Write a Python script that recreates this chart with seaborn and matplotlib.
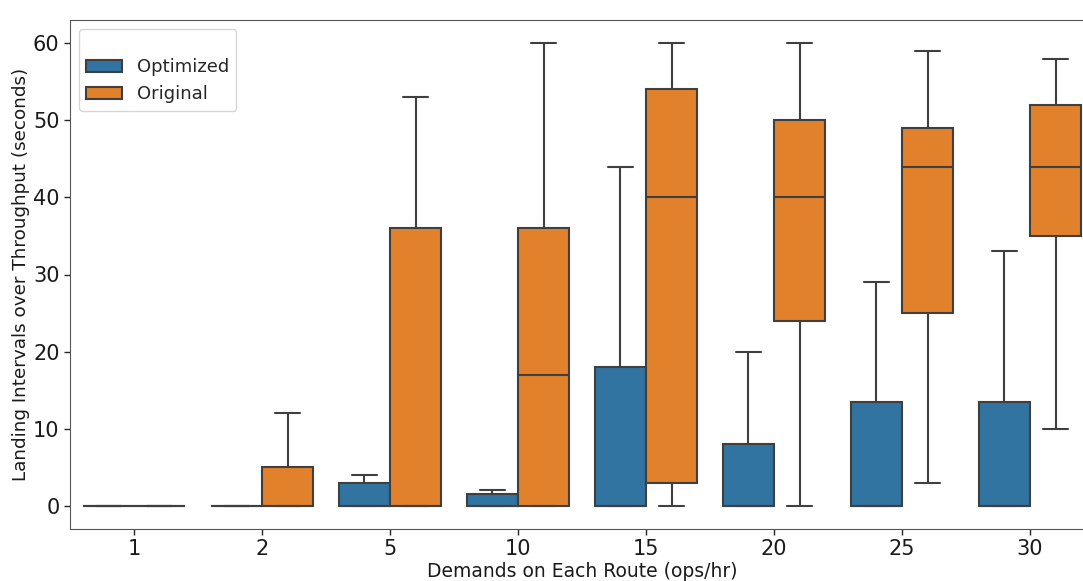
import numpy as np
import pandas as pd
import matplotlib
matplotlib.use("Agg")
import matplotlib.pyplot as plt
import seaborn as sns

demands = ["1", "2", "5", "10", "15", "20", "25", "30"]
# five-number summaries per demand: [min, q1, median, q3, max]
optimized = [
    [0, 0, 0, 0, 0],
    [0, 0, 0, 0, 0],
    [0, 0, 0, 3, 4],
    [0, 0, 0, 1.5, 2],
    [0, 0, 0, 18, 44],
    [0, 0, 0, 8, 20],
    [0, 0, 0, 13.5, 29],
    [0, 0, 0, 13.5, 33],
]
original = [
    [0, 0, 0, 0, 0],
    [0, 0, 0, 5, 12],
    [0, 0, 0, 36, 53],
    [0, 0, 17, 36, 60],
    [0, 3, 40, 54, 60],
    [0, 24, 40, 50, 60],
    [3, 25, 44, 49, 59],
    [10, 35, 44, 52, 58],
]
methods = ["Optimized", "Original"]

rows = []
for d, opt, ori in zip(demands, optimized, original):
    for v in opt:
        rows.append((d, "Optimized", v))
    for v in ori:
        rows.append((d, "Original", v))
df = pd.DataFrame(rows, columns=["Demand", "Method", "Interval"])

sns.set_style("white")
fig = plt.figure(figsize=(10.83, 5.81), dpi=100)
ax = fig.add_axes([70 / 1083, 1 - 529 / 581, 1024 / 1083, 509 / 581])

sns.boxplot(data=df, x="Demand", y="Interval", hue="Method", order=demands,
            hue_order=methods, whis=(0, 100), ax=ax, linewidth=1.5)

ax.set_xlabel("Demands on Each Route (ops/hr)", fontsize=13.5, labelpad=2,
              color="#1a1a1a")
ax.set_ylabel("Landing Intervals over Throughput (seconds)", fontsize=13.2,
              labelpad=2, color="#1a1a1a")
ax.tick_params(axis="both", labelsize=15, length=4, width=1, direction="out",
               bottom=True, left=True, labelcolor="#1a1a1a")
ax.set_ylim(-3, 63)
ax.set_yticks([0, 10, 20, 30, 40, 50, 60])
for s in ax.spines.values():
    s.set_color("#555555")
ax.legend(loc="upper left", title=" ", fontsize=13, title_fontsize=9.5,
          frameon=True)

fig.savefig("out.png", dpi=100)
